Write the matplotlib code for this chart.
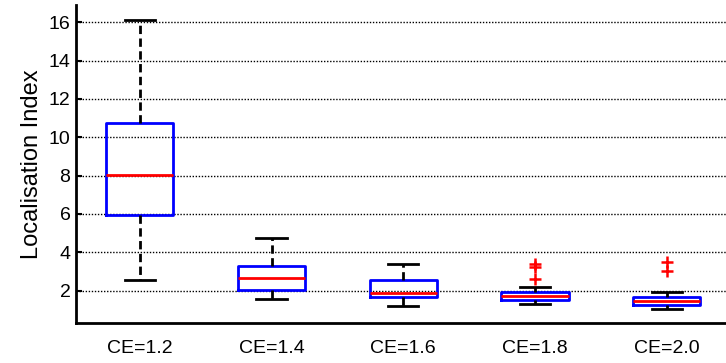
import matplotlib
matplotlib.use("Agg")
import matplotlib.pyplot as plt

# ─────────────────────────────────────────────
# Box statistics
# ─────────────────────────────────────────────

labels = ["CE=1.2", "CE=1.4", "CE=1.6", "CE=1.8", "CE=2.0"]
medians = [8.02, 2.64, 1.89, 1.71, 1.45]
q1s = [5.94, 2.03, 1.68, 1.50, 1.24]
q3s = [10.77, 3.28, 2.55, 1.90, 1.65]
whislo = [2.55, 1.56, 1.19, 1.28, 1.04]
whishi = [16.10, 4.75, 3.37, 2.20, 1.94]
outliers = [[], [], [], [3.38, 3.22, 2.60], [3.47, 3.03]]

yticks = [2, 4, 6, 8, 10, 12, 14, 16]

plt.rcParams["font.family"] = ["Liberation Sans", "DejaVu Sans"]

stats = []
for lab, med, a, b, lo, hi, fl in zip(labels, medians, q1s, q3s, whislo, whishi, outliers):
    stats.append({"label": lab, "med": med, "q1": a, "q3": b,
                  "whislo": lo, "whishi": hi, "fliers": fl})

fig = plt.figure(figsize=(7.26, 3.63), dpi=100)
ax = fig.add_axes([0.1047, 0.110, 0.8953, 0.876])

ax.bxp(
    stats,
    positions=range(1, len(stats) + 1),
    widths=0.51,
    capwidths=0.23,
    boxprops=dict(color="#0000ff", linewidth=2),
    medianprops=dict(color="#ff0000", linewidth=2),
    whiskerprops=dict(color="black", linewidth=2, linestyle=(0, (3, 1.6))),
    capprops=dict(color="black", linewidth=2),
    flierprops=dict(marker="+", markeredgecolor="#ff0000", markersize=9,
                    markeredgewidth=1.8, linestyle="none"),
)

ax.set_xlim(0.515, 5.45)
ax.set_ylim(0.3, 16.9)
ax.set_yticks(yticks)
ax.set_yticklabels([str(v) for v in yticks], fontsize=14)
ax.tick_params(axis="x", length=0, labelsize=14, pad=12)
ax.tick_params(axis="y", direction="in", length=4, width=1.5, pad=4)

ax.set_ylabel("Localisation Index", fontsize=17, labelpad=4)

# horizontal dotted grid only
ax.yaxis.grid(True, linestyle=(0, (1, 1.2)), color="black", linewidth=1)
ax.set_axisbelow(True)

for side in ["top", "right"]:
    ax.spines[side].set_visible(False)
ax.spines["left"].set_linewidth(2)
ax.spines["bottom"].set_linewidth(2)

fig.savefig("out.png", dpi=100)
